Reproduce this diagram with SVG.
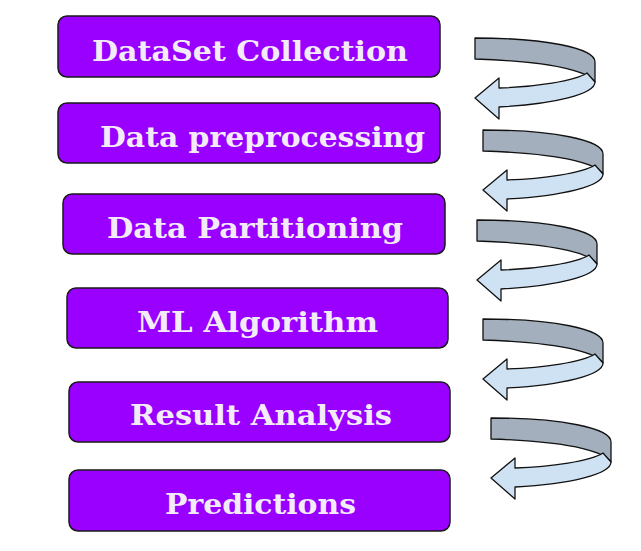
<svg xmlns="http://www.w3.org/2000/svg" xmlns:xlink="http://www.w3.org/1999/xlink" width="641" height="551" viewBox="0 0 641 551">
<style>
.box{fill:#9900ff;stroke:#1a1a1a;stroke-width:1.5}
.lbl{font-family:"DejaVu Serif","Liberation Serif",serif;font-weight:bold;font-size:28px;fill:#f3ecf8}
.dark{fill:#a3afbd;stroke:#111;stroke-width:1.3;stroke-linejoin:round}
.light{fill:#cfe2f3;stroke:#111;stroke-width:1.3;stroke-linejoin:round}
</style>
<defs>
<g id="turn">
<path class="dark" d="M0,0 C70,0 120,10 120,24 L120,44 C115,36 90,24 0,21 Z"/>
<path class="light" d="M120,44 C120,56 80,66 24,69 L24,81 L0,60 L24,40 L24,50 C60,49 100,43 112,35 Z"/>
</g>
</defs>
<rect width="641" height="551" fill="#ffffff"/>
<g id="connectors">
<use xlink:href="#turn" href="#turn" transform="translate(475,38)"/>
<use xlink:href="#turn" href="#turn" transform="translate(483,130)"/>
<use xlink:href="#turn" href="#turn" transform="translate(477,220)"/>
<use xlink:href="#turn" href="#turn" transform="translate(483,319)"/>
<use xlink:href="#turn" href="#turn" transform="translate(491,418)"/>
</g>
<g id="node1"><rect class="box" x="58" y="16" width="382" height="61" rx="9"/><text class="lbl" x="92" y="61" textLength="316" lengthAdjust="spacingAndGlyphs">DataSet Collection</text></g>
<g id="node2"><rect class="box" x="58" y="103" width="382" height="60" rx="9"/><text class="lbl" x="100" y="147" textLength="325" lengthAdjust="spacingAndGlyphs">Data preprocessing</text></g>
<g id="node3"><rect class="box" x="63" y="194" width="382" height="60" rx="9"/><text class="lbl" x="107" y="238" textLength="296" lengthAdjust="spacingAndGlyphs">Data Partitioning</text></g>
<g id="node4"><rect class="box" x="67" y="288" width="381" height="60" rx="9"/><text class="lbl" x="137" y="332" textLength="241" lengthAdjust="spacingAndGlyphs">ML Algorithm</text></g>
<g id="node5"><rect class="box" x="69" y="382" width="381" height="60" rx="9"/><text class="lbl" x="130" y="425" textLength="262" lengthAdjust="spacingAndGlyphs">Result Analysis</text></g>
<g id="node6"><rect class="box" x="69" y="470" width="381" height="61" rx="9"/><text class="lbl" x="165" y="514" textLength="191" lengthAdjust="spacingAndGlyphs">Predictions</text></g>
</svg>
